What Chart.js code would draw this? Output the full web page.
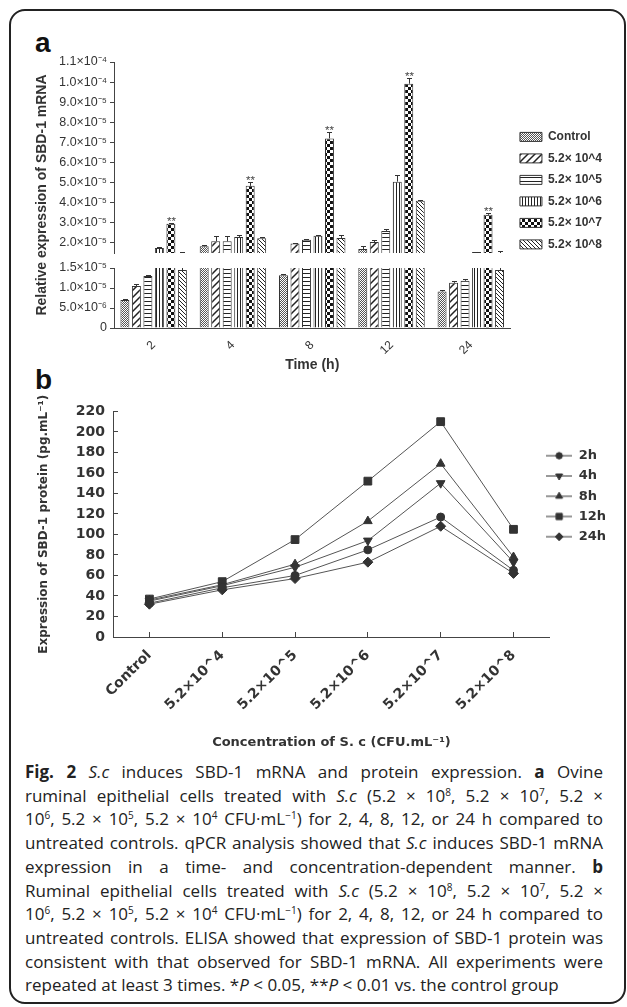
<!DOCTYPE html>
<html>
<head>
<meta charset="utf-8">
<script src="https://cdn.jsdelivr.net/npm/chart.js@4.4.1/dist/chart.umd.min.js"></script>
<style>
  html, body { margin: 0; padding: 0; background: #fff; }
  body { width: 627px; height: 1007px; position: relative; overflow: hidden; font-family: 'Liberation Sans', Arial, sans-serif; }
  .frame { position: absolute; left: 9px; top: 9px; width: 617px; height: 995px; box-sizing: border-box; border: 2px solid #222; border-radius: 16px; }
  .panel { position: absolute; font-weight: bold; font-size: 28px; line-height: 28px; color: #111; }
  #wrapA { position: absolute; left: 0; top: 45px; }
  #wrapB { position: absolute; left: 0; top: 390px; }
  .caption { position: absolute; left: 25px; top: 760px; width: 578px; font-family: 'Open Sans', sans-serif; font-size: 17px; line-height: 23.7px; color: #222; }
  .caption div { text-align: justify; text-align-last: justify; white-space: nowrap; }
  .caption div.last { text-align: left; text-align-last: left; }
  .caption sup { font-size: 10px; line-height: 0; vertical-align: 6px; }
</style>
</head>
<body>
<div class="frame"></div>
<div class="panel" style="left:35px; top:29px;">a</div>
<div class="panel" style="left:35px; top:366px;">b</div>
<div id="wrapA"><canvas id="chartA" width="627" height="335"></canvas></div>
<div id="wrapB"><canvas id="chartB" width="627" height="370"></canvas></div>
<div class="caption">
  <div><b>Fig. 2</b> <i>S.c</i> induces SBD-1 mRNA and protein expression. <b>a</b> Ovine</div>
  <div>ruminal epithelial cells treated with <i>S.c</i> (5.2 × 10<sup>8</sup>, 5.2 × 10<sup>7</sup>, 5.2 ×</div>
  <div>10<sup>6</sup>, 5.2 × 10<sup>5</sup>, 5.2 × 10<sup>4</sup> CFU·mL<sup>−1</sup>) for 2, 4, 8, 12, or 24 h compared to</div>
  <div>untreated controls. qPCR analysis showed that <i>S.c</i> induces SBD-1 mRNA</div>
  <div>expression in a time- and concentration-dependent manner. <b>b</b></div>
  <div>Ruminal epithelial cells treated with <i>S.c</i> (5.2 × 10<sup>8</sup>, 5.2 × 10<sup>7</sup>, 5.2 ×</div>
  <div>10<sup>6</sup>, 5.2 × 10<sup>5</sup>, 5.2 × 10<sup>4</sup> CFU·mL<sup>−1</sup>) for 2, 4, 8, 12, or 24 h compared to</div>
  <div>untreated controls. ELISA showed that expression of SBD-1 protein was</div>
  <div>consistent with that observed for SBD-1 mRNA. All experiments were</div>
  <div class="last">repeated at least 3 times. *<i>P</i> &lt; 0.05, **<i>P</i> &lt; 0.01 vs. the control group</div>
</div>
<script>
// ---- panel a: relative expression of SBD-1 mRNA ----
const timeLabels = ['2', '4', '8', '12', '24'];
const concLegend = ['Control', '5.2\u00d7 10^4', '5.2\u00d7 10^5', '5.2\u00d7 10^6', '5.2\u00d7 10^7', '5.2\u00d7 10^8'];

// mean values for 2, 4, 8, 12, 24 h
const mrnaControl = [0.70e-5, 1.83e-5, 1.32e-5, 1.70e-5, 0.91e-5];
const mrna52e4 = [1.05e-5, 2.08e-5, 1.97e-5, 2.05e-5, 1.13e-5];
const mrna52e5 = [1.30e-5, 2.08e-5, 2.16e-5, 2.60e-5, 1.18e-5];
const mrna52e6 = [1.75e-5, 2.30e-5, 2.36e-5, 5.05e-5, 1.55e-5];
const mrna52e7 = [2.95e-5, 4.84e-5, 7.20e-5, 9.92e-5, 3.40e-5];
const mrna52e8 = [1.45e-5, 2.23e-5, 2.25e-5, 4.10e-5, 1.45e-5];

// error bars (upper side only)
const errControl = [0.02e-5, 0.05e-5, 0.03e-5, 0.15e-5, 0.04e-5];
const err52e4 = [0.05e-5, 0.25e-5, 0.05e-5, 0.08e-5, 0.05e-5];
const err52e5 = [0.03e-5, 0.25e-5, 0.04e-5, 0.08e-5, 0.04e-5];
const err52e6 = [0.05e-5, 0.08e-5, 0.05e-5, 0.33e-5, 0.02e-5];
const err52e7 = [0.05e-5, 0.18e-5, 0.33e-5, 0.30e-5, 0.08e-5];
const err52e8 = [0.10e-5, 0.05e-5, 0.16e-5, 0.05e-5, 0.15e-5];

const sig52e7 = ['**', '**', '**', '**', '**'];

// tick values of the broken y axis
const lowerTicks = [0, 5e-6, 1.0e-5, 1.5e-5];
const upperTicks = [2e-5, 3e-5, 4e-5, 5e-5, 6e-5, 7e-5, 8e-5, 9e-5, 1.0e-4, 1.1e-4];

const mrnaAxisTitle = 'Relative expression of SBD-1 mRNA';
const BREAK = 1.5e-5; // axis break between lower and upper segment

// ---- panel b: SBD-1 protein ----
const concTicks = ['Control', '5.2\u00d710^4', '5.2\u00d710^5', '5.2\u00d710^6', '5.2\u00d710^7', '5.2\u00d710^8'];
const timeSeriesNames = ['2h', '4h', '8h', '12h', '24h'];
const protein2h = [33, 48, 60, 85, 117, 65];
const protein4h = [35, 50, 68, 94, 150, 73];
const protein8h = [36, 51, 71, 113, 169, 78];
const protein12h = [37, 54, 95, 152, 210, 105];
const protein24h = [32, 46, 57, 73, 108, 62];

Chart.defaults.font.family = "'Liberation Sans', Arial, sans-serif";
Chart.defaults.color = '#333';
Chart.defaults.animation = false;

// fill patterns for the bars
function makePattern(w, h, draw) {
  const c = document.createElement('canvas');
  c.width = w; c.height = h;
  const g = c.getContext('2d');
  g.fillStyle = '#fff';
  g.fillRect(0, 0, w, h);
  g.fillStyle = '#222';
  g.strokeStyle = '#222';
  draw(g);
  return g.createPattern(c, 'repeat');
}
const patterns = [
  makePattern(2, 2, g => { g.fillStyle = '#555'; g.fillRect(0, 0, 1, 1); g.fillRect(1, 1, 1, 1); }),
  makePattern(7, 7, g => {
    g.lineWidth = 1.5;
    g.beginPath();
    g.moveTo(0, 7); g.lineTo(7, 0);
    g.moveTo(-1, 1); g.lineTo(1, -1);
    g.moveTo(6, 8); g.lineTo(8, 6);
    g.stroke();
  }),
  makePattern(1, 4, g => { g.fillRect(0, 0, 1, 1); }),
  makePattern(3, 1, g => { g.fillRect(0, 0, 1, 1); }),
  makePattern(6, 6, g => { g.fillStyle = '#111'; g.fillRect(0, 0, 3, 3); g.fillRect(3, 3, 3, 3); }),
  makePattern(4, 4, g => {
    g.lineWidth = 1;
    g.beginPath();
    g.moveTo(0, 0); g.lineTo(4, 4);
    g.moveTo(-1, 3); g.lineTo(1, 5);
    g.moveTo(3, -1); g.lineTo(5, 1);
    g.stroke();
  })
];

const mrnaSeries = [mrnaControl, mrna52e4, mrna52e5, mrna52e6, mrna52e7, mrna52e8];
const mrnaErr = [errControl, err52e4, err52e5, err52e6, err52e7, err52e8];
const mrnaSig = [null, null, null, null, sig52e7, null];

// each series is drawn twice: once on the lower axis segment and once on the upper one
const datasetsA = [];
mrnaSeries.forEach((vals, i) => {
  const common = {
    label: concLegend[i],
    backgroundColor: patterns[i],
    borderColor: '#333',
    borderWidth: 1,
    stack: 's' + i,
    barPercentage: 0.78,
    categoryPercentage: 0.87,
    clip: 0
  };
  datasetsA.push(Object.assign({}, common, { data: vals, yAxisID: 'yLow' }));
  datasetsA.push(Object.assign({}, common, { data: vals, yAxisID: 'yHigh' }));
});

const supDigits = { '-': '\u207b', '0': '\u2070', '1': '\u00b9', '2': '\u00b2', '3': '\u00b3', '4': '\u2074', '5': '\u2075', '6': '\u2076', '7': '\u2077', '8': '\u2078', '9': '\u2079' };
function sciLabel(v) {
  const parts = v.toExponential(1).split('e');
  const exp = String(Number(parts[1])).split('').map(c => supDigits[c]).join('');
  return parts[0] + '\u00d710' + exp;
}

const fixWidth = s => { s.width = 60; };
const axisGrid = { drawOnChartArea: false, tickLength: 4, color: '#444' };

const errorBarPlugin = {
  id: 'errorBars',
  afterDatasetsDraw(chart) {
    const ctx = chart.ctx;
    const lo = chart.scales.yLow, hi = chart.scales.yHigh;
    const yPix = v => (v > BREAK ? hi.getPixelForValue(v) : lo.getPixelForValue(v));
    ctx.save();
    ctx.strokeStyle = '#333';
    ctx.fillStyle = '#444';
    ctx.lineWidth = 1;
    ctx.font = "11.5px 'Liberation Sans', Arial, sans-serif";
    ctx.textAlign = 'center';
    mrnaSeries.forEach((vals, s) => {
      const meta = chart.getDatasetMeta(s * 2);
      vals.forEach((v, i) => {
        const x = Math.round(meta.data[i].x) + 0.5;
        const top = v + mrnaErr[s][i];
        const y0 = yPix(v), y1 = Math.round(yPix(top)) + 0.5;
        ctx.beginPath();
        if (v <= BREAK && top > BREAK) {
          ctx.moveTo(x, y0); ctx.lineTo(x, lo.top);
          ctx.moveTo(x, hi.bottom); ctx.lineTo(x, y1);
        } else {
          ctx.moveTo(x, y0); ctx.lineTo(x, y1);
        }
        ctx.moveTo(x - 2.5, y1); ctx.lineTo(x + 2.5, y1);
        ctx.stroke();
        if (mrnaSig[s] && mrnaSig[s][i]) ctx.fillText(mrnaSig[s][i], x, y1 + 1);
      });
    });
    ctx.restore();
  }
};

const mrnaTitlePlugin = {
  id: 'mrnaTitle',
  afterDraw(chart) {
    const ctx = chart.ctx;
    const hi = chart.scales.yHigh, lo = chart.scales.yLow;
    ctx.save();
    ctx.translate(42, (hi.top + lo.bottom) / 2);
    ctx.rotate(-Math.PI / 2);
    ctx.font = "bold 14px 'Liberation Sans', Arial, sans-serif";
    ctx.fillStyle = '#333';
    ctx.textAlign = 'center';
    ctx.textBaseline = 'middle';
    ctx.fillText(mrnaAxisTitle, 0, 0);
    ctx.restore();
  }
};

new Chart(document.getElementById('chartA'), {
  type: 'bar',
  data: { labels: timeLabels, datasets: datasetsA },
  options: {
    responsive: false,
    layout: { padding: { left: 54, right: 15, top: 17, bottom: 2 } },
    plugins: {
      tooltip: { enabled: false },
      legend: {
        position: 'right',
        align: 'start',
        maxWidth: 102,
        title: { display: true, text: '', padding: { top: 45, bottom: 0 }, font: { size: 12 } },
        labels: {
          boxWidth: 22,
          boxHeight: 9,
          padding: 9.5,
          color: '#333',
          font: { size: 12, weight: 'bold' },
          filter: item => item.datasetIndex % 2 === 0
        }
      }
    },
    scales: {
      x: {
        grid: { display: false },
        border: { color: '#444' },
        ticks: { minRotation: 45, maxRotation: 45, padding: 2, font: { size: 12 }, color: '#333' },
        title: { display: true, text: 'Time (h)', color: '#333', font: { size: 14, weight: 'bold' }, padding: { top: 2, bottom: 4 } },
        afterFit: s => { s.height = 50; }
      },
      yLow: {
        type: 'linear', position: 'left', stack: 'mrna', stackWeight: 60,
        min: 0, max: BREAK,
        afterBuildTicks: s => { s.ticks = lowerTicks.map(v => ({ value: v })); },
        ticks: { autoSkip: false, font: { size: 12.5 }, color: '#333', padding: 3, callback: v => (v === 0 ? '0' : sciLabel(v)) },
        grid: axisGrid, border: { color: '#444' },
        afterFit: fixWidth
      },
      yGap: {
        type: 'linear', position: 'left', stack: 'mrna', stackWeight: 15,
        min: 0, max: 1,
        ticks: { display: false }, grid: { display: false }, border: { display: false },
        afterFit: fixWidth
      },
      yHigh: {
        type: 'linear', position: 'left', stack: 'mrna', stackWeight: 191,
        min: BREAK, max: 1.1e-4,
        afterBuildTicks: s => { s.ticks = upperTicks.map(v => ({ value: v })); },
        ticks: { autoSkip: false, font: { size: 12.5 }, color: '#333', padding: 3, callback: v => sciLabel(v) },
        grid: axisGrid, border: { color: '#444' },
        afterFit: fixWidth
      }
    }
  },
  plugins: [errorBarPlugin, mrnaTitlePlugin]
});

// ---- panel b chart ----
const proteinSeries = [protein2h, protein4h, protein8h, protein12h, protein24h];
const markerStyles = [
  { pointStyle: 'circle', rotation: 0, radius: 4 },
  { pointStyle: 'triangle', rotation: 180, radius: 5 },
  { pointStyle: 'triangle', rotation: 0, radius: 5 },
  { pointStyle: 'rect', rotation: 0, radius: 5.5 },
  { pointStyle: 'rectRot', rotation: 0, radius: 5 }
];

function legendMarker(m) {
  const c = document.createElement('canvas');
  c.width = 26; c.height = 12;
  const g = c.getContext('2d');
  g.strokeStyle = '#555';
  g.lineWidth = 1.2;
  g.beginPath(); g.moveTo(0, 6); g.lineTo(26, 6); g.stroke();
  g.fillStyle = '#333';
  g.strokeStyle = '#333';
  g.lineWidth = 1;
  Chart.helpers.drawPoint(g, { pointStyle: m.pointStyle, rotation: m.rotation, radius: m.radius * 0.8, borderWidth: 1 }, 13, 6);
  return c;
}
const legendMarkers = markerStyles.map(legendMarker);

const datasetsB = proteinSeries.map((vals, i) => ({
  label: timeSeriesNames[i],
  data: vals,
  borderColor: '#555',
  borderWidth: 1,
  backgroundColor: '#333',
  pointBorderColor: '#333',
  pointBackgroundColor: '#333',
  pointStyle: markerStyles[i].pointStyle,
  pointRotation: markerStyles[i].rotation,
  pointRadius: markerStyles[i].radius,
  tension: 0
}));

const legendShift = {
  id: 'legendShift',
  afterLayout(chart) {
    chart.legend.left -= 11;
    chart.legend.right -= 11;
  }
};

const dejaBold = size => ({ family: "'DejaVu Sans', sans-serif", size: size, weight: 'bold' });

new Chart(document.getElementById('chartB'), {
  type: 'line',
  data: { labels: concTicks, datasets: datasetsB },
  options: {
    responsive: false,
    layout: { padding: { left: 33, right: 0, top: 17, bottom: 6 } },
    plugins: {
      tooltip: { enabled: false },
      legend: {
        position: 'right',
        align: 'start',
        title: { display: true, text: '', padding: { top: 19.4, bottom: 0 }, font: { size: 13 } },
        labels: {
          usePointStyle: true,
          pointStyleWidth: 26,
          padding: 7.25,
          color: '#333',
          font: dejaBold(13),
          generateLabels(chart) {
            const items = Chart.defaults.plugins.legend.labels.generateLabels(chart);
            items.forEach((it, i) => { it.pointStyle = legendMarkers[i]; it.rotation = 0; });
            return items;
          }
        }
      }
    },
    scales: {
      x: {
        offset: true,
        grid: { display: true, drawOnChartArea: false, offset: false, tickLength: -5, color: '#444' },
        border: { color: '#444' },
        ticks: { minRotation: 45, maxRotation: 45, padding: 15, font: dejaBold(14), color: '#333' },
        title: { display: true, text: 'Concentration of S. c (CFU.mL\u207b\u00b9)', color: '#333', font: dejaBold(13), padding: { top: 4, bottom: 4 } },
        afterFit: s => { s.height = 117; }
      },
      y: {
        min: 0, max: 220,
        ticks: { stepSize: 20, padding: 13, font: dejaBold(14), color: '#333' },
        grid: { drawOnChartArea: false, tickLength: -5, color: '#444' },
        border: { color: '#444' },
        title: { display: true, text: 'Expression of SBD-1 protein (pg.mL\u207b\u00b9)', color: '#333', font: dejaBold(12), padding: { top: 4, bottom: 0 } },
        afterFit: s => { s.width = 80; }
      }
    }
  },
  plugins: [legendShift]
});
</script>
</body>
</html>
